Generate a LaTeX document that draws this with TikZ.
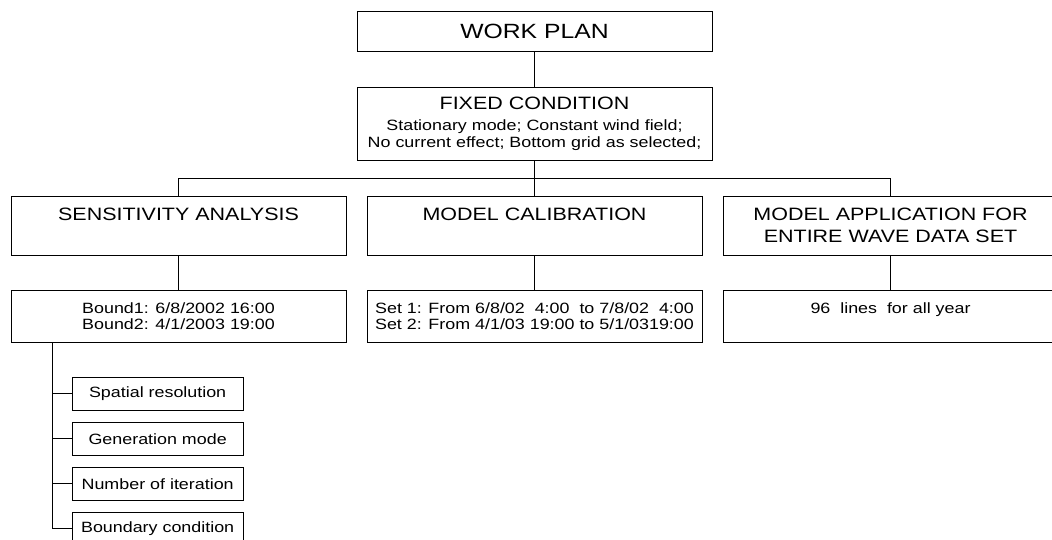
\documentclass[tikz,border=0pt]{standalone}
\usepackage{fontspec}
\setmainfont{Liberation Sans}[FakeStretch=1.2]
\usetikzlibrary{positioning}

\begin{document}
\begin{tikzpicture}[
  x=1pt, y=1pt, line width=1pt,
  box/.style={draw, align=center, inner sep=0pt, outer sep=0pt},
  topbox/.style={box, minimum width=355pt, minimum height=40pt,
                 font=\fontsize{20.6}{24}\selectfont},
  headbox/.style={box, minimum width=335pt, minimum height=59pt,
                  font=\fontsize{17.9}{21.7}\selectfont},
  textbox/.style={box, minimum width=335pt, minimum height=51.5pt,
                  font=\fontsize{14.9}{16}\selectfont},
  subbox/.style={box, minimum width=171.3pt, minimum height=32.7pt,
                 font=\fontsize{14.9}{16}\selectfont}
]
\useasboundingbox (0,0) rectangle (1052,-540);

% top of the plan
\node[topbox] (plan) at (534.5,-31.7) {WORK PLAN};
\node[topbox, below=35.5pt of plan, minimum height=73.4pt,
      font=\fontsize{14.9}{17.6}\selectfont] (fixed)
  {{\fontsize{17.9}{17.6}\selectfont FIXED CONDITION}\\[3.1pt]
   Stationary mode; Constant wind field;\\
   No current effect; Bottom grid as selected;};

% three branches
\node[headbox, below=35.5pt of fixed] (calib) {MODEL CALIBRATION\\~};
\node[headbox, left=21pt of calib] (sens) {SENSITIVITY ANALYSIS\\~};
\node[headbox, right=21pt of calib] (appl) {MODEL APPLICATION FOR\\ENTIRE WAVE DATA SET};

\node[textbox, below=35.5pt of sens] (bound) {Bound1: 6/8/2002 16:00\\Bound2: 4/1/2003 19:00};
\node[textbox, below=35.5pt of calib] (sets)
  {Set 1: From 6/8/02\ \ 4:00\ \ to 7/8/02\ \ 4:00\\Set 2: From 4/1/03 19:00 to 5/1/0319:00};
\node[textbox, below=35.5pt of appl] (lines) {96\ \ lines\ \ for all year\\~};

% sensitivity parameters
\node[subbox, below=35.3pt of bound.south west, anchor=north west, xshift=61pt] (spat) {Spatial resolution};
\node[subbox, below=12.3pt of spat] (gen) {Generation mode};
\node[subbox, below=12.3pt of gen] (iter) {Number of iteration};
\node[subbox, below=12.3pt of iter] (bcond) {Boundary condition};

\coordinate (trunk) at ([xshift=41pt]bound.south west);

\draw (plan) -- (fixed);
\draw (fixed) -- (calib);
\draw (sens.north) -- ++(0,17.7) -| (appl.north);
\draw (sens) -- (bound);
\draw (calib) -- (sets);
\draw (appl) -- (lines);
\draw (trunk) |- (bcond.west);
\foreach \n in {spat,gen,iter}
  \draw (\n.west) -- (\n.west -| trunk);
\end{tikzpicture}
\end{document}
